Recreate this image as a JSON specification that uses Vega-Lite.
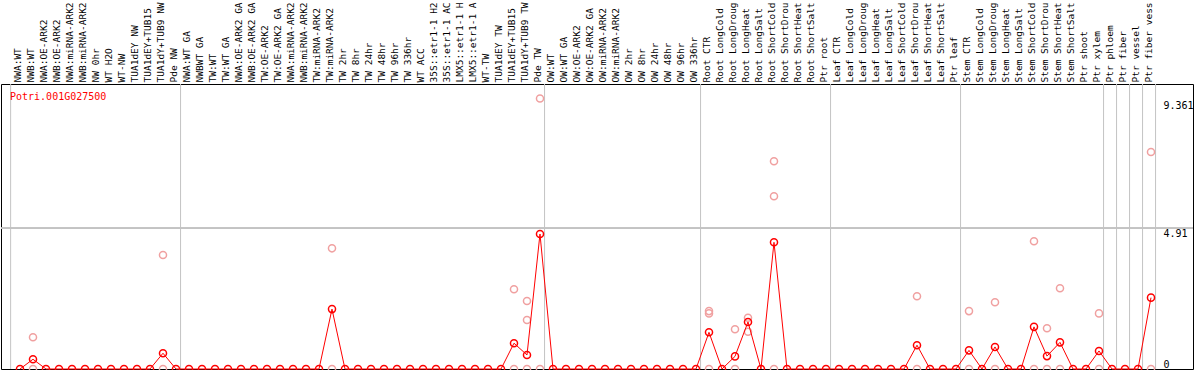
{
  "$schema": "https://vega.github.io/schema/vega-lite/v6.json",
  "width": 1192,
  "height": 285,
  "autosize": "none",
  "padding": {"left": 1, "top": 84, "right": 1, "bottom": 1},
  "background": "white",
  "config": {
    "view": {"stroke": "#000000", "strokeWidth": 1},
    "font": "DejaVu Sans Mono",
    "axis": {"grid": false, "domain": false, "ticks": false, "title": null, "labelOverlap": false, "labelBound": false, "labelFlush": false}
  },
  "datasets": {
    "cols": [
      {"i": 0, "label": "NWA:WT", "mean": 0}, {"i": 1, "label": "NWB:WT", "mean": 0.34}, {"i": 2, "label": "NWA:OE-ARK2", "mean": 0}, {"i": 3, "label": "NWB:OE-ARK2", "mean": 0}, {"i": 4, "label": "NWA:miRNA-ARK2", "mean": 0}, {"i": 5, "label": "NWB:miRNA-ARK2", "mean": 0}, {"i": 6, "label": "NW 0hr", "mean": 0}, {"i": 7, "label": "WT H2O", "mean": 0}, {"i": 8, "label": "WT-NW", "mean": 0}, {"i": 9, "label": "TUA1dEY NW", "mean": 0}, {"i": 10, "label": "TUA1dEY+TUB15", "mean": 0}, {"i": 11, "label": "TUA1dY+TUB9 NW", "mean": 0.55}, {"i": 12, "label": "Pde NW", "mean": 0},
      {"i": 13, "label": "NWA:WT GA", "mean": 0}, {"i": 14, "label": "NWBWT GA", "mean": 0}, {"i": 15, "label": "TW:WT", "mean": 0}, {"i": 16, "label": "TW:WT GA", "mean": 0}, {"i": 17, "label": "NWA:OE-ARK2 GA", "mean": 0}, {"i": 18, "label": "NWB:OE-ARK2 GA", "mean": 0}, {"i": 19, "label": "TW:OE-ARK2", "mean": 0}, {"i": 20, "label": "TW:OE-ARK2 GA", "mean": 0}, {"i": 21, "label": "NWA:miRNA-ARK2", "mean": 0}, {"i": 22, "label": "NWB:miRNA-ARK2", "mean": 0}, {"i": 23, "label": "TW:miRNA-ARK2", "mean": 0}, {"i": 24, "label": "TW:miRNA-ARK2", "mean": 2.09}, {"i": 25, "label": "TW 2hr", "mean": 0}, {"i": 26, "label": "TW 8hr", "mean": 0}, {"i": 27, "label": "TW 24hr", "mean": 0}, {"i": 28, "label": "TW 48hr", "mean": 0}, {"i": 29, "label": "TW 96hr", "mean": 0}, {"i": 30, "label": "TW 336hr", "mean": 0}, {"i": 31, "label": "WT ACC", "mean": 0}, {"i": 32, "label": "35S::etr1-1 H2", "mean": 0}, {"i": 33, "label": "35S::etr1-1 AC", "mean": 0}, {"i": 34, "label": "LMX5::etr1-1 H", "mean": 0}, {"i": 35, "label": "LMX5::etr1-1 A", "mean": 0}, {"i": 36, "label": "WT-TW", "mean": 0}, {"i": 37, "label": "TUA1dEY TW", "mean": 0}, {"i": 38, "label": "TUA1dEY+TUB15", "mean": 0.9}, {"i": 39, "label": "TUA1dY+TUB9 TW", "mean": 0.49}, {"i": 40, "label": "Pde TW", "mean": 4.71},
      {"i": 41, "label": "OW:WT", "mean": 0}, {"i": 42, "label": "OW:WT GA", "mean": 0}, {"i": 43, "label": "OW:OE-ARK2", "mean": 0}, {"i": 44, "label": "OW:OE-ARK2 GA", "mean": 0}, {"i": 45, "label": "OW:miRNA-ARK2", "mean": 0}, {"i": 46, "label": "OW:miRNA-ARK2", "mean": 0}, {"i": 47, "label": "OW 2hr", "mean": 0}, {"i": 48, "label": "OW 8hr", "mean": 0}, {"i": 49, "label": "OW 24hr", "mean": 0}, {"i": 50, "label": "OW 48hr", "mean": 0}, {"i": 51, "label": "OW 96hr", "mean": 0}, {"i": 52, "label": "OW 336hr", "mean": 0},
      {"i": 53, "label": "Root CTR", "mean": 1.28}, {"i": 54, "label": "Root LongCold", "mean": 0}, {"i": 55, "label": "Root LongDroug", "mean": 0.44}, {"i": 56, "label": "Root LongHeat", "mean": 1.64}, {"i": 57, "label": "Root LongSalt", "mean": 0}, {"i": 58, "label": "Root ShortCold", "mean": 4.42}, {"i": 59, "label": "Root ShortDrou", "mean": 0}, {"i": 60, "label": "Root ShortHeat", "mean": 0}, {"i": 61, "label": "Root ShortSalt", "mean": 0}, {"i": 62, "label": "Ptr root", "mean": 0},
      {"i": 63, "label": "Leaf CTR", "mean": 0}, {"i": 64, "label": "Leaf LongCold", "mean": 0}, {"i": 65, "label": "Leaf LongDroug", "mean": 0}, {"i": 66, "label": "Leaf LongHeat", "mean": 0}, {"i": 67, "label": "Leaf LongSalt", "mean": 0}, {"i": 68, "label": "Leaf ShortCold", "mean": 0}, {"i": 69, "label": "Leaf ShortDrou", "mean": 0.83}, {"i": 70, "label": "Leaf ShortHeat", "mean": 0}, {"i": 71, "label": "Leaf ShortSalt", "mean": 0}, {"i": 72, "label": "Ptr leaf", "mean": 0},
      {"i": 73, "label": "Stem CTR", "mean": 0.65}, {"i": 74, "label": "Stem LongCold", "mean": 0}, {"i": 75, "label": "Stem LongDroug", "mean": 0.77}, {"i": 76, "label": "Stem LongHeat", "mean": 0}, {"i": 77, "label": "Stem LongSalt", "mean": 0}, {"i": 78, "label": "Stem ShortCold", "mean": 1.47}, {"i": 79, "label": "Stem ShortDrou", "mean": 0.45}, {"i": 80, "label": "Stem ShortHeat", "mean": 0.93}, {"i": 81, "label": "Stem ShortSalt", "mean": 0}, {"i": 82, "label": "Ptr shoot", "mean": 0},
      {"i": 83, "label": "Ptr xylem", "mean": 0.63}, {"i": 84, "label": "Ptr phloem", "mean": 0}, {"i": 85, "label": "Ptr fiber", "mean": 0}, {"i": 86, "label": "Ptr vessel", "mean": 0}, {"i": 87, "label": "Ptr fiber vess", "mean": 2.49}
    ],
    "reps": [
      {"i": 1, "v": 1.11}, {"i": 1, "v": 0}, {"i": 11, "v": 3.98}, {"i": 11, "v": 0},
      {"i": 24, "v": 4.21}, {"i": 24, "v": 0}, {"i": 38, "v": 2.78}, {"i": 38, "v": 0},
      {"i": 39, "v": 2.37}, {"i": 39, "v": 1.71}, {"i": 39, "v": 0}, {"i": 40, "v": 9.44}, {"i": 40, "v": 0},
      {"i": 53, "v": 2.02}, {"i": 53, "v": 1.94}, {"i": 53, "v": 0}, {"i": 55, "v": 1.39}, {"i": 55, "v": 0},
      {"i": 56, "v": 1.79}, {"i": 56, "v": 1.3}, {"i": 58, "v": 7.25}, {"i": 58, "v": 6.03}, {"i": 58, "v": 0},
      {"i": 69, "v": 2.54}, {"i": 69, "v": 0}, {"i": 73, "v": 2.02}, {"i": 73, "v": 0},
      {"i": 75, "v": 2.33}, {"i": 75, "v": 0}, {"i": 78, "v": 4.46}, {"i": 78, "v": 0},
      {"i": 79, "v": 1.42}, {"i": 79, "v": 0}, {"i": 80, "v": 2.82}, {"i": 80, "v": 0},
      {"i": 83, "v": 1.94}, {"i": 83, "v": 0}, {"i": 87, "v": 7.57}, {"i": 87, "v": 0}
    ],
    "bounds": [
      {"b": -0.72}, {"b": 12.35}, {"b": 40.35}, {"b": 52.35}, {"b": 62.35}, {"b": 72.35},
      {"b": 83.35}, {"b": 84.35}, {"b": 85.35}, {"b": 86.35}, {"b": 87.35}
    ]
  },
  "layer": [
    {
      "data": {"name": "bounds"},
      "mark": {"type": "rule", "color": "#c4c4c4", "strokeWidth": 1},
      "encoding": {
        "x": {
          "field": "b", "type": "quantitative",
          "scale": {"domain": [-1.4615, 90.231], "nice": false, "zero": false},
          "axis": {
            "orient": "top", "title": null, "domain": false, "ticks": false, "grid": false,
            "tickCount": 500,
            "values": [0,1,2,3,4,5,6,7,8,9,10,11,12,13,14,15,16,17,18,19,20,21,22,23,24,25,26,27,28,29,30,31,32,33,34,35,36,37,38,39,40,41,42,43,44,45,46,47,48,49,50,51,52,53,54,55,56,57,58,59,60,61,62,63,64,65,66,67,68,69,70,71,72,73,74,75,76,77,78,79,80,81,82,83,84,85,86,87],
            "labelExpr": "['NWA:WT','NWB:WT','NWA:OE-ARK2','NWB:OE-ARK2','NWA:miRNA-ARK2','NWB:miRNA-ARK2','NW 0hr','WT H2O','WT-NW','TUA1dEY NW','TUA1dEY+TUB15','TUA1dY+TUB9 NW','Pde NW','NWA:WT GA','NWBWT GA','TW:WT','TW:WT GA','NWA:OE-ARK2 GA','NWB:OE-ARK2 GA','TW:OE-ARK2','TW:OE-ARK2 GA','NWA:miRNA-ARK2','NWB:miRNA-ARK2','TW:miRNA-ARK2','TW:miRNA-ARK2','TW 2hr','TW 8hr','TW 24hr','TW 48hr','TW 96hr','TW 336hr','WT ACC','35S::etr1-1 H2','35S::etr1-1 AC','LMX5::etr1-1 H','LMX5::etr1-1 A','WT-TW','TUA1dEY TW','TUA1dEY+TUB15','TUA1dY+TUB9 TW','Pde TW','OW:WT','OW:WT GA','OW:OE-ARK2','OW:OE-ARK2 GA','OW:miRNA-ARK2','OW:miRNA-ARK2','OW 2hr','OW 8hr','OW 24hr','OW 48hr','OW 96hr','OW 336hr','Root CTR','Root LongCold','Root LongDroug','Root LongHeat','Root LongSalt','Root ShortCold','Root ShortDrou','Root ShortHeat','Root ShortSalt','Ptr root','Leaf CTR','Leaf LongCold','Leaf LongDroug','Leaf LongHeat','Leaf LongSalt','Leaf ShortCold','Leaf ShortDrou','Leaf ShortHeat','Leaf ShortSalt','Ptr leaf','Stem CTR','Stem LongCold','Stem LongDroug','Stem LongHeat','Stem LongSalt','Stem ShortCold','Stem ShortDrou','Stem ShortHeat','Stem ShortSalt','Ptr shoot','Ptr xylem','Ptr phloem','Ptr fiber','Ptr vessel','Ptr fiber vess'][datum.value]",
            "labelAngle": -90, "labelAlign": "left", "labelBaseline": "middle",
            "labelPadding": 2, "labelOffset": -2, "labelOverlap": false, "labelBound": false, "labelFlush": false,
            "labelFont": "DejaVu Sans Mono", "labelFontSize": 9.5, "labelColor": "#000000", "labelLimit": 300
          }
        }
      }
    },
    {
      "data": {"name": "bounds"},
      "mark": {"type": "rule", "color": "#c4c4c4", "strokeWidth": 1},
      "encoding": {
        "y": {
          "datum": 4.91, "type": "quantitative",
          "scale": {"domain": [0, 9.944], "nice": false, "zero": true},
          "axis": {
            "orient": "right", "title": null, "domain": false, "ticks": false, "grid": false,
            "tickCount": 50,
            "values": [0, 4.91, 9.361], "offset": -30, "labelPadding": 0,
            "labelExpr": "'' + datum.value",
            "labelAlign": "left",
            "labelBaseline": {"condition": {"test": "datum.value == 0", "value": "bottom"}, "value": "top"},
            "labelFont": "DejaVu Sans Mono", "labelFontSize": 10, "labelColor": "#000000",
            "labelFlush": false, "labelOverlap": false, "labelBound": false
          }
        }
      }
    },
    {
      "data": {"name": "reps"},
      "mark": {"type": "point", "shape": "circle", "filled": false, "color": "#f0a0a0", "strokeWidth": 1.5, "size": 50, "opacity": 1},
      "encoding": {
        "x": {"field": "i", "type": "quantitative"},
        "y": {"field": "v", "type": "quantitative"}
      }
    },
    {
      "data": {"name": "cols"},
      "mark": {"type": "line", "color": "#ff0000", "strokeWidth": 1},
      "encoding": {
        "x": {"field": "i", "type": "quantitative"},
        "y": {"field": "mean", "type": "quantitative"}
      }
    },
    {
      "data": {"name": "cols"},
      "mark": {"type": "point", "shape": "circle", "filled": false, "color": "#ff0000", "strokeWidth": 1.5, "size": 50, "opacity": 1},
      "encoding": {
        "x": {"field": "i", "type": "quantitative"},
        "y": {"field": "mean", "type": "quantitative"}
      }
    },
    {
      "data": {"values": [{}]},
      "mark": {"type": "text", "color": "#ff0000", "align": "left", "baseline": "middle", "font": "DejaVu Sans Mono", "fontSize": 10},
      "encoding": {
        "x": {"datum": -0.77, "type": "quantitative"},
        "y": {"datum": 9.49, "type": "quantitative"},
        "text": {"value": "Potri.001G027500"}
      }
    }
  ]
}
